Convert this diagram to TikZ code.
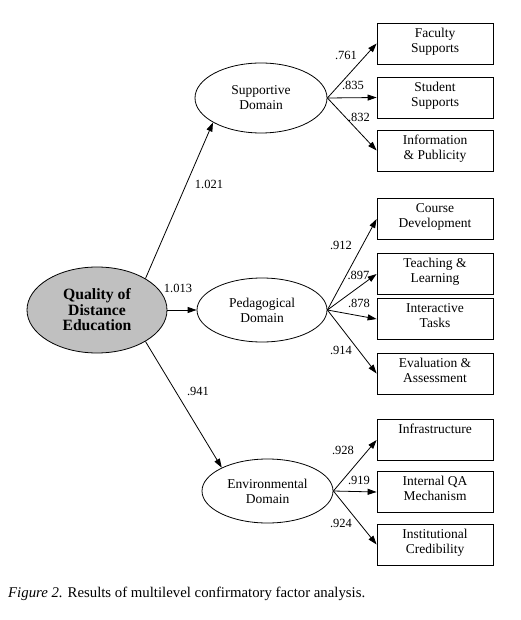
\documentclass[tikz,border=0pt]{standalone}
\usepackage{fontspec}
\setmainfont{Liberation Serif}
\usetikzlibrary{shapes.geometric,arrows.meta}
\definecolor{qfill}{RGB}{192,192,192}
\begin{document}
\begin{tikzpicture}[x=1pt,y=-1pt,
  lat/.style={ellipse,draw=black,line width=0.8pt,inner sep=0pt,align=center,
    font=\fontsize{13.5}{15}\selectfont},
  box/.style={draw=black,line width=0.8pt,minimum width=116pt,minimum height=41pt,inner sep=0pt},
  btext/.style={anchor=north,inner sep=0pt,align=center,font=\fontsize{13.5}{15}\selectfont},
  lbl/.style={inner sep=0pt,font=\fontsize{12.5}{14}\selectfont},
  arr/.style={-{Triangle[length=9pt,width=6pt]},line width=0.8pt},
]
\useasboundingbox (0,0) rectangle (521,620);

% latent variables
\node[lat,fill=qfill,minimum width=140pt,minimum height=86pt,
  font=\bfseries\fontsize{15.7}{15.5}\selectfont] (Q) at (97,310) {Quality of\\Distance\\Education};
\node[lat,minimum width=132pt,minimum height=70pt] (S) at (261,98) {Supportive\\Domain};
\node[lat,minimum width=130pt,minimum height=64pt] (P) at (262,310) {Pedagogical\\Domain};
\node[lat,minimum width=131pt,minimum height=64pt] (E) at (267.5,491) {Environmental\\Domain};

% indicator boxes
\node[box] (b1) at (435,43.5) {};
\node[box] (b2) at (435,97.5) {};
\node[box] (b3) at (435,150.5) {};
\node[box] (b4) at (435,219) {};
\node[box] (b5) at (435,274) {};
\node[box] (b6) at (435,319) {};
\node[box] (b7) at (435,373.5) {};
\node[box] (b8) at (435,440) {};
\node[box] (b9) at (435,492) {};
\node[box] (b10) at (435,544.5) {};

\node[btext] (t1) at ([yshift=-5]b1.north) {Faculty\\Supports};
\node[btext] (t2) at ([yshift=-5]b2.north) {Student\\Supports};
\node[btext] (t3) at ([yshift=-5]b3.north) {Information\\\& Publicity};
\node[btext] (t4) at ([yshift=-5]b4.north) {Course\\Development};
\node[btext] (t5) at ([yshift=-5]b5.north) {Teaching \&\\Learning};
\node[btext] (t6) at ([yshift=-5]b6.north) {Interactive\\Tasks};
\node[btext] (t7) at ([yshift=-5]b7.north) {Evaluation \&\\Assessment};
\node[btext] (t8) at ([yshift=-5]b8.north) {Infrastructure};
\node[btext] (t9) at ([yshift=-5]b9.north) {Internal QA\\Mechanism};
\node[btext] (t10) at ([yshift=-5]b10.north) {Institutional\\Credibility};

% structural paths
\draw[arr] (Q.33) -- (S.207);
\draw[arr] (Q) -- (P);
\draw[arr] (Q.-33) -- (E.153);

% measurement paths
\foreach \b in {b1,b2,b3} \draw[arr] (S.east) -- (\b.west);
\foreach \b in {b4,b5,b6,b7} \draw[arr] (P.east) -- (\b.west);
\foreach \b in {b8,b9,b10} \draw[arr] (E.east) -- (\b.west);

% loadings
\node[lbl] (l1) at (209,184) {1.021};
\node[lbl] (l2) at (178,288) {1.013};
\node[lbl] (l3) at (198,391) {.941};
\node[lbl] (l4) at (346,55) {.761};
\node[lbl] (l5) at (353,85) {.835};
\node[lbl] (l6) at (359,117) {.832};
\node[lbl] (l7) at (341,245) {.912};
\node[lbl] (l8) at (358.5,275) {.897};
\node[lbl] (l9) at (359,303) {.878};
\node[lbl] (l10) at (341,350) {.914};
\node[lbl] (l11) at (343,450) {.928};
\node[lbl] (l12) at (359,480) {.919};
\node[lbl] (l13) at (341,523) {.924};

% caption
\node[anchor=base west,inner sep=0pt,font=\fontsize{14.8}{16}\selectfont] (cap) at (8,597)
  {\textit{Figure 2.} Results of multilevel confirmatory factor analysis.};
\end{tikzpicture}
\end{document}
